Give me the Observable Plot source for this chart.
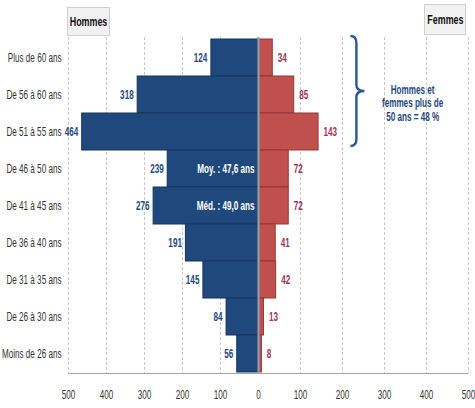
<!DOCTYPE html>
<html><head><meta charset="utf-8">
<script src="https://cdn.jsdelivr.net/npm/d3@7"></script>
<script src="https://cdn.jsdelivr.net/npm/@observablehq/plot@0.6"></script>
<style>
body{margin:0;background:#fff;}
#wrap{position:relative;width:475px;height:408px;font-family:"Liberation Sans",Arial,sans-serif;}
.box{position:absolute;background:#f2f2f2;border:1px solid #cfcfcf;font-weight:bold;font-size:13.5px;color:#111;display:flex;align-items:center;justify-content:center;box-sizing:border-box;}
.box span{display:inline-block;transform:scaleX(0.66);white-space:nowrap;}
</style></head>
<body><div id="wrap"></div>
<script>
const categories = ["Plus de 60 ans","De 56 à 60 ans","De 51 à 55 ans","De 46 à 50 ans","De 41 à 45 ans","De 36 à 40 ans","De 31 à 35 ans","De 26 à 30 ans","Moins de 26 ans"];
const hommes = [124,318,464,239,276,191,145,84,56];
const femmes = [34,85,143,72,72,41,42,13,8];
const tickValues = [-500,-400,-300,-200,-100,0,100,200,300,400,500];
const innerLabels = [{cat:"De 46 à 50 ans", text:"Moy. : 47,6 ans"},{cat:"De 41 à 45 ans", text:"Méd. : 49,0 ans"}];
const bracketNote = [{cat:"De 56 à 60 ans", value:367, text:"Hommes et\nfemmes plus de\n50 ans = 48 %"}];
const bracketCats = ["Plus de 60 ans","De 51 à 55 ans"];
const panelTitles = ["Hommes","Femmes"];

// the men's half of the axis is drawn a little shorter than the women's half
const k = 190/210;
const pos = v => v < 0 ? v*k : v;
const unpos = p => p < 0 ? p/k : p;

const men = categories.map((c,i)=>({cat:c, v:pos(-hommes[i]), n:hommes[i]}));
const women = categories.map((c,i)=>({cat:c, v:pos(femmes[i]), n:femmes[i]}));
const ticksPos = tickValues.map(pos);
const blue="#1f497d", red="#c0504d";
const font='"Liberation Sans",Arial,sans-serif';
const SX = 0.65;

function bracket(index, scales, values, dims) {
  const y = scales.y, x = scales.x;
  const bw = y(categories[1]) - y(categories[0]);
  const yTop = y(bracketCats[0]) - 3, yBot = y(bracketCats[1]) + bw - 4;
  const ym = (yTop+yBot)/2;
  const x0 = x(pos(220)), xs = x0+6, xt = x0+14;
  const p = `M${x0},${yTop} Q${xs},${yTop} ${xs},${yTop+7} L${xs},${ym-6} Q${xs},${ym} ${xt},${ym} Q${xs},${ym} ${xs},${ym+6} L${xs},${yBot-7} Q${xs},${yBot} ${x0},${yBot}`;
  return d3.create("svg:path").attr("d",p).attr("fill","none").attr("stroke","#2b5894").attr("stroke-width",2.4).node();
}
function baseline(index, scales, values, dims) {
  const yb = dims.height - dims.marginBottom;
  return d3.create("svg:line").attr("x1",dims.marginLeft).attr("x2",dims.width-dims.marginRight)
    .attr("y1",yb+0.5).attr("y2",yb+0.5).attr("stroke","#a6a6a6").attr("stroke-width",1).node();
}

const chart = Plot.plot({
  width:475, height:408,
  marginTop:37, marginBottom:35, marginLeft:68, marginRight:7,
  style:{fontFamily:font, fontSize:"12.5px", color:"#333"},
  x:{domain:[pos(-500), 500], ticks:ticksPos, tickFormat:d=>Math.round(Math.abs(unpos(d))), tickSize:0, tickPadding:17, label:null},
  y:{domain:categories, padding:0, tickSize:0, tickPadding:7, label:null},
  marks:[
    Plot.ruleX(ticksPos.filter(d=>d!==0), {stroke:"#c8c8c8", strokeDasharray:"3,2"}),
    Plot.barX(men, {x:"v", y:"cat", fill:blue, stroke:"#17365d", strokeWidth:1}),
    Plot.barX(women, {x:"v", y:"cat", fill:red, stroke:"#943634", strokeWidth:1}),
    Plot.ruleX([0], {stroke:"#8aa0bd", strokeWidth:2}),
    Plot.text(men, {x:"v", y:"cat", text:d=>String(d.n), textAnchor:"end", dx:-4, fill:blue, fontWeight:"bold", fontSize:12.5}),
    Plot.text(women, {x:"v", y:"cat", text:d=>String(d.n), textAnchor:"start", dx:5, fill:"#a0315e", fontWeight:"bold", fontSize:12.5}),
    Plot.text(innerLabels, {x:0, y:"cat", text:"text", textAnchor:"end", dx:-4, fill:"white", fontWeight:"bold", fontSize:12.5}),
    Plot.text(bracketNote, {x:d=>pos(d.value), y:"cat", text:"text", dy:8, fill:"#1f497d", fontWeight:"bold", fontSize:12.5, lineHeight:1.08}),
    bracket,
    baseline
  ]
});
// condense every label horizontally around its own anchor (the reference uses a narrow face)
chart.querySelectorAll("text").forEach(t=>{
  const x = +(t.getAttribute("x")||0);
  const tr = t.getAttribute("transform")||"";
  t.setAttribute("transform", `${tr} translate(${x},0) scale(${SX},1) translate(${-x},0)`);
});
const wrap = document.getElementById("wrap");
chart.style.position="absolute"; chart.style.left="0"; chart.style.top="0";
wrap.appendChild(chart);
const boxes = [[panelTitles[0],{left:"67px",top:"7px",width:"43px",height:"29px"}],[panelTitles[1],{left:"424px",top:"4px",width:"42px",height:"31px"}]];
boxes.forEach(([txt,st])=>{
  const b=document.createElement("div"); b.className="box";
  const s=document.createElement("span"); s.textContent=txt; b.appendChild(s);
  Object.assign(b.style,st); wrap.appendChild(b);
});
</script></body></html>
